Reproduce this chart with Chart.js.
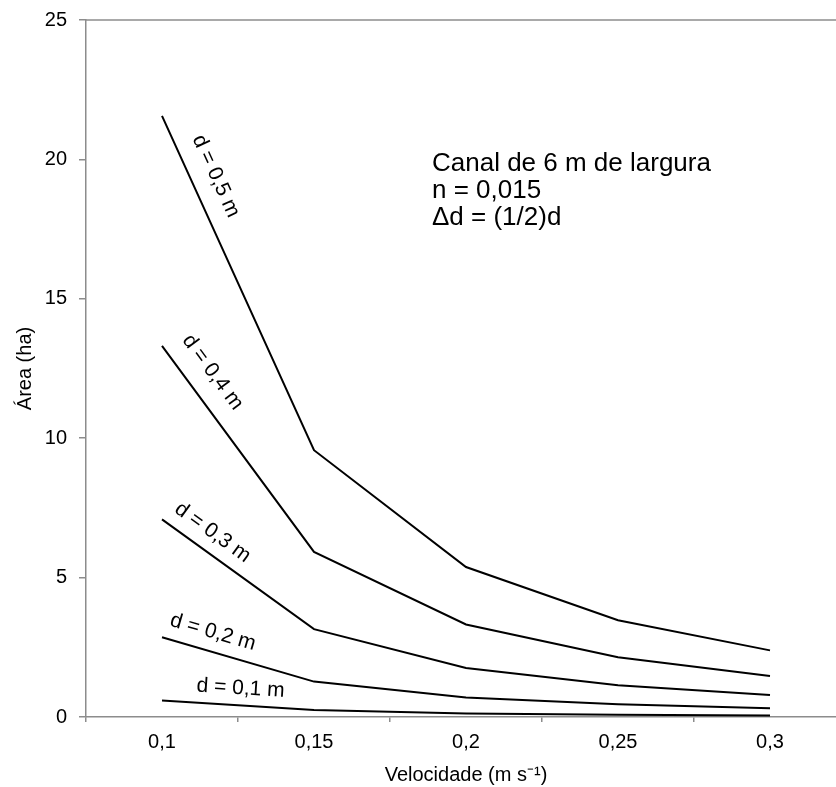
<!DOCTYPE html>
<html>
<head>
<meta charset="utf-8">
<script src="https://cdn.jsdelivr.net/npm/chart.js@4.4.0/dist/chart.umd.min.js"></script>
<style>
  html, body { margin: 0; padding: 0; background: #fff; overflow: hidden; }
  #wrap { width: 850px; height: 787px; }
</style>
</head>
<body>
<div id="wrap"><canvas id="grafico" width="850" height="787"></canvas></div>
<script>
// Velocidade (m/s) no eixo x
const velocidades = ['0,1', '0,15', '0,2', '0,25', '0,3'];

// Área drenada (ha) para cada profundidade d
const area05 = [21.56, 9.57, 5.38, 3.47, 2.39];
const area04 = [13.31, 5.92, 3.32, 2.14, 1.47];
const area03 = [7.09, 3.15, 1.76, 1.14, 0.79];
const area02 = [2.86, 1.27, 0.70, 0.46, 0.31];
const area01 = [0.59, 0.25, 0.13, 0.08, 0.05];

const profundidades = ['d = 0,5 m', 'd = 0,4 m', 'd = 0,3 m', 'd = 0,2 m', 'd = 0,1 m'];
const yTicks = [0, 5, 10, 15, 20, 25];
const notas = ['Canal de 6 m de largura', 'n = 0,015', '\u0394d = (1/2)d'];

const FONTE = '"Liberation Sans", Arial, Helvetica, sans-serif';
const CINZA = '#8c8c8c';

// posição de cada rótulo ao longo do primeiro segmento: [fração, afastamento px]
const posRotulo = [[0.21, 24], [0.20, 25], [0.26, 19], [0.30, 19], [0.51, 17]];

const rotulos = {
  id: 'rotulos',
  afterDatasetsDraw(chart) {
    const ctx = chart.ctx;
    const sx = chart.scales.x, sy = chart.scales.y;
    ctx.save();
    ctx.fillStyle = '#000';
    ctx.font = '21px ' + FONTE;
    ctx.textAlign = 'center';
    ctx.textBaseline = 'middle';
    chart.data.datasets.forEach((ds, i) => {
      const [t, dist] = posRotulo[i];
      const x0 = sx.getPixelForValue(0), y0 = sy.getPixelForValue(ds.data[0]);
      const x1 = sx.getPixelForValue(1), y1 = sy.getPixelForValue(ds.data[1]);
      const ang = Math.atan2(y1 - y0, x1 - x0);
      const px = x0 + t * (x1 - x0) + dist * Math.sin(ang);
      const py = y0 + t * (y1 - y0) - dist * Math.cos(ang);
      ctx.save();
      ctx.translate(px, py);
      ctx.rotate(ang);
      ctx.fillText(profundidades[i], 0, 0);
      ctx.restore();
    });

    // texto com os parâmetros do canal
    const a = chart.chartArea;
    ctx.font = '26px ' + FONTE;
    ctx.textAlign = 'left';
    ctx.textBaseline = 'alphabetic';
    notas.forEach((txt, k) => ctx.fillText(txt, a.left + 346, a.top + 151 + k * 27));
    ctx.restore();
  },
  beforeDatasetsDraw(chart) {
    // linha superior do quadro
    const a = chart.chartArea, ctx = chart.ctx;
    ctx.save();
    ctx.strokeStyle = CINZA;
    ctx.lineWidth = 1.5;
    ctx.beginPath();
    ctx.moveTo(a.left, a.top);
    ctx.lineTo(a.right, a.top);
    ctx.stroke();
    ctx.restore();
  }
};

const serie = (valores) => ({
  data: valores,
  borderColor: '#000',
  borderWidth: 2,
  pointRadius: 0,
  tension: 0,
  fill: false
});

new Chart(document.getElementById('grafico'), {
  type: 'line',
  data: {
    labels: velocidades,
    datasets: [area05, area04, area03, area02, area01].map(serie)
  },
  options: {
    responsive: false,
    animation: false,
    layout: { padding: { top: 20, right: 4, left: 0, bottom: 0 } },
    plugins: {
      legend: { display: false },
      tooltip: { enabled: false }
    },
    scales: {
      x: {
        type: 'category',
        offset: true,
        grid: { display: true, offset: true, drawOnChartArea: false, drawTicks: true, tickLength: 5, color: CINZA, lineWidth: 1.5 },
        border: { display: true, color: CINZA, width: 1.5 },
        ticks: { color: '#000', font: { family: FONTE, size: 20 }, padding: 8, maxRotation: 0 },
        title: { display: true, text: 'Velocidade (m s\u207B\u00B9)', color: '#000', font: { family: FONTE, size: 20 }, padding: { top: 0, bottom: 0 } },
        afterFit(scale) { scale.height = 70; }
      },
      y: {
        min: 0,
        max: 25,
        afterBuildTicks(scale) { scale.ticks = yTicks.map(v => ({ value: v })); },
        grid: { display: true, drawOnChartArea: false, drawTicks: true, tickLength: 7, color: CINZA, lineWidth: 1.5 },
        border: { display: true, color: CINZA, width: 1.5 },
        ticks: { color: '#000', font: { family: FONTE, size: 20 }, padding: 12 },
        title: { display: true, text: 'Área (ha)', color: '#000', font: { family: FONTE, size: 20 }, padding: { top: 13, bottom: 0 } },
        afterFit(scale) {
          scale.width = 86;
          scale.paddingTop = 0;
          scale.paddingBottom = 0;
        }
      }
    }
  },
  plugins: [rotulos]
});
</script>
</body>
</html>
